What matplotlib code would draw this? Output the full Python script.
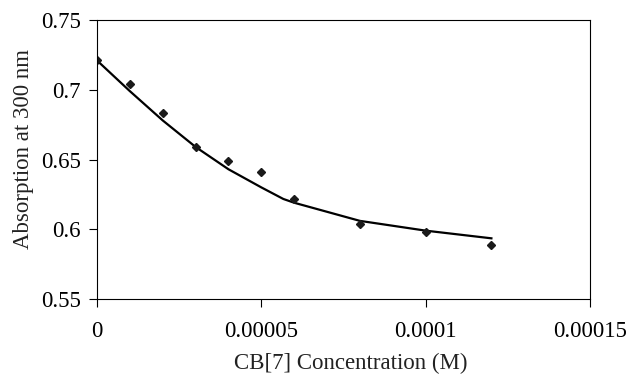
import matplotlib
matplotlib.use('Agg')
import matplotlib.pyplot as plt

# measured absorption
conc = [0, 0.00001, 0.00002, 0.00003, 0.00004, 0.00005, 0.00006, 0.00008, 0.0001, 0.00012]
absorb = [0.721, 0.704, 0.683, 0.659, 0.649, 0.641, 0.622, 0.604, 0.598, 0.5885]

# fitted curve
fit_conc = [0, 0.00001, 0.00002, 0.00003, 0.00004, 0.00005, 0.0000567, 0.00006, 0.00008, 0.0001, 0.00012]
fit_absorb = [0.721, 0.699, 0.678, 0.659, 0.643, 0.630, 0.6217, 0.619, 0.606, 0.599, 0.5935]

xticks = [0, 0.00005, 0.0001, 0.00015]
xticklabels = ['0', '0.00005', '0.0001', '0.00015']
yticks = [0.55, 0.6, 0.65, 0.7, 0.75]
yticklabels = ['0.55', '0.6', '0.65', '0.7', '0.75']

plt.rcParams['font.family'] = ['Liberation Serif', 'DejaVu Serif']

fig = plt.figure(figsize=(6.28, 3.74), dpi=100)
ax = fig.add_axes([97/628, 1 - 299/374, (590 - 97)/628, (299 - 20)/374])

ax.plot(fit_conc, fit_absorb, '-', color='black', linewidth=1.6)
ax.plot(conc, absorb, 'D', color='#1a1a1a', markersize=4.5, linestyle='none')

ax.set_xlim(0, 0.00015)
ax.set_ylim(0.55, 0.75)
ax.set_xticks(xticks)
ax.set_xticklabels(xticklabels)
ax.set_yticks(yticks)
ax.set_yticklabels(yticklabels)
ax.tick_params(axis='both', direction='out', length=5.5, width=0.8, labelsize=16.5, color='black')
ax.tick_params(axis='x', pad=10)
ax.tick_params(axis='y', pad=6)
for s in ax.spines.values():
    s.set_linewidth(0.8)
    s.set_color('black')

ax.set_xlabel('CB[7] Concentration (M)', fontsize=16.5, labelpad=8.5, color='#222222', x=0.515)
ax.set_ylabel('Absorption at 300 nm', fontsize=16.5, labelpad=5, color='#222222', y=0.538)

fig.savefig('out.png', dpi=100)
